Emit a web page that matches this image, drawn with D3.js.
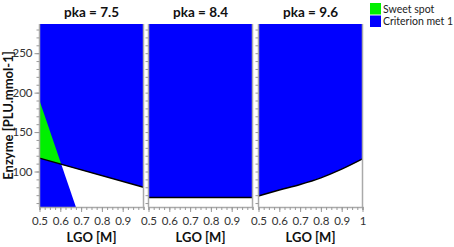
<!DOCTYPE html>
<html>
<head>
    <meta charset="UTF-8">
    <title>Sweet spot</title>
    <script src="https://d3js.org/d3.v7.min.js"></script>
    <style>
        * { margin: 0; padding: 0; box-sizing: border-box; }
        body { background: #fff; font-family: Lato, "Open Sans", sans-serif; }
        .tick text { font-size: 11.5px; fill: #333; font-family: Lato, sans-serif; }
        .title { font-size: 13.5px; font-weight: bold; fill: #111; }
        .axis-title { font-size: 13px; font-weight: bold; fill: #111; }
        .legend-text { font-size: 10.5px; fill: #222; }
    </style>
</head>
<body>
    <div id="chart"></div>
    <script>
        const PanelTitles = ["pka = 7.5", "pka = 8.4", "pka = 9.6"];
        const LgoTicks = [0.5, 0.6, 0.7, 0.8, 0.9, 1.0];
        const EnzymeTicks = [100, 150, 200, 250];
        const LgoDomain = [0.5, 1.0];
        const EnzymeDomain = [55, 287];

        // boundaries (LGO, Enzyme)
        const Sweet_P1 = [[0.5, 117], [0.5, 190], [0.605, 109]];
        const White_P1 = [[0.605, 109], [1.0, 80], [1.0, 55], [0.675, 55]];
        const Line_P1 = [[0.5, 117], [1.0, 80]];
        const Line_P2 = [[0.5, 67], [1.0, 67]];
        const Line_P3 = [[0.5, 69], [0.6, 76.5], [0.7, 83.5], [0.8, 92], [0.9, 103], [1.0, 116]];

        const LegendItems = ["Sweet spot", "Criterion met 1"];
        const LegendColors = ["#00f000", "#0000ff"];

        const W = 454, H = 247;
        const Top = 24, Bottom = 207;
        const PanelLeft = [39.5, 148.5, 258.5];
        const PanelW = 104;
        const BLUE = "#0000ff", GREEN = "#00f000";

        const svg = d3.select("#chart").append("svg")
            .attr("width", W).attr("height", H);

        const y = d3.scaleLinear().domain(EnzymeDomain).range([Bottom, Top]);

        const panelLines = [Line_P1, Line_P2, Line_P3];

        PanelTitles.forEach((title, i) => {
            const x = d3.scaleLinear().domain(LgoDomain).range([PanelLeft[i], PanelLeft[i] + PanelW]);
            const g = svg.append("g");
            const line = d3.line().x(d => x(d[0])).y(d => y(d[1])).curve(d3.curveMonotoneX);
            const poly = d3.line().x(d => x(d[0])).y(d => y(d[1]));

            // blue everywhere, then white below the boundary
            g.append("rect")
                .attr("x", x(LgoDomain[0])).attr("y", y(EnzymeDomain[1]))
                .attr("width", x(LgoDomain[1]) - x(LgoDomain[0]))
                .attr("height", y(EnzymeDomain[0]) - y(EnzymeDomain[1]))
                .attr("fill", BLUE);

            if (i === 0) {
                g.append("path").attr("d", poly(White_P1) + "Z").attr("fill", "#fff");
                g.append("path").attr("d", poly(Sweet_P1) + "Z").attr("fill", GREEN);
            } else {
                const pts = panelLines[i];
                const area = d3.area().x(d => x(d[0])).y0(y(EnzymeDomain[0])).y1(d => y(d[1])).curve(d3.curveMonotoneX);
                g.append("path").attr("d", area(pts)).attr("fill", "#fff");
            }

            g.append("path").attr("d", line(panelLines[i]))
                .attr("fill", "none").attr("stroke", "#000").attr("stroke-width", 1.4);

            // frame
            g.append("line").attr("x1", x(1.0)).attr("x2", x(1.0)).attr("y1", Top).attr("y2", Bottom)
                .attr("stroke", "#aaa").attr("stroke-width", 1.5);

            const ticks = i === 2 ? LgoTicks : LgoTicks.slice(0, 5);
            const xAxis = g.append("g")
                .attr("transform", `translate(0,${Bottom})`)
                .call(d3.axisBottom(x).tickValues(d3.range(0.5, 1.0001, 0.025)).tickSize(3)
                    .tickFormat(() => ""));
            xAxis.select(".domain").attr("stroke", "#aaa").attr("stroke-width", 1.5);
            xAxis.selectAll(".tick line").attr("stroke", "#999");
            const xLab = g.append("g")
                .attr("transform", `translate(0,${Bottom})`)
                .call(d3.axisBottom(x).tickValues(ticks).tickSize(5).tickPadding(5)
                    .tickFormat(d => d === 1 ? "1" : d3.format(".1f")(d)));
            xLab.select(".domain").remove();
            xLab.selectAll(".tick line").attr("stroke", "#999");

            const yAxis = g.append("g")
                .attr("transform", `translate(${x(LgoDomain[0])},0)`)
                .call(d3.axisLeft(y).tickValues(d3.range(60, 287, 10)).tickSize(3).tickFormat(() => ""));
            yAxis.select(".domain").attr("stroke", "#aaa").attr("stroke-width", 1.5)
                .attr("d", `M0,${Top}V${Bottom}`);
            yAxis.selectAll(".tick line").attr("stroke", "#999");
            if (i === 0) {
                const yLab = g.append("g")
                    .attr("transform", `translate(${x(LgoDomain[0])},0)`)
                    .call(d3.axisLeft(y).tickValues(EnzymeTicks).tickSize(5).tickPadding(2));
                yLab.select(".domain").remove();
                yLab.selectAll(".tick line").attr("stroke", "#999");
            }

            g.append("text").attr("class", "title")
                .attr("x", x(0.75)).attr("y", 17).attr("text-anchor", "middle")
                .text(title);
            g.append("text").attr("class", "axis-title")
                .attr("x", x(0.75)).attr("y", 242).attr("text-anchor", "middle")
                .text("LGO [M]");
        });

        svg.append("text").attr("class", "axis-title")
            .attr("transform", `translate(13,${(Top + Bottom) / 2}) rotate(-90)`)
            .attr("text-anchor", "middle")
            .text("Enzyme [PLU.mmol-1]");

        const legend = svg.append("g").attr("transform", "translate(370,3)");
        LegendItems.forEach((name, i) => {
            legend.append("rect").attr("x", 0).attr("y", i * 12.5)
                .attr("width", 11).attr("height", 11.5).attr("fill", LegendColors[i]);
            legend.append("text").attr("class", "legend-text")
                .attr("x", 13).attr("y", i * 12.5 + 9.5).text(name);
        });
    </script>
</body>
</html>
